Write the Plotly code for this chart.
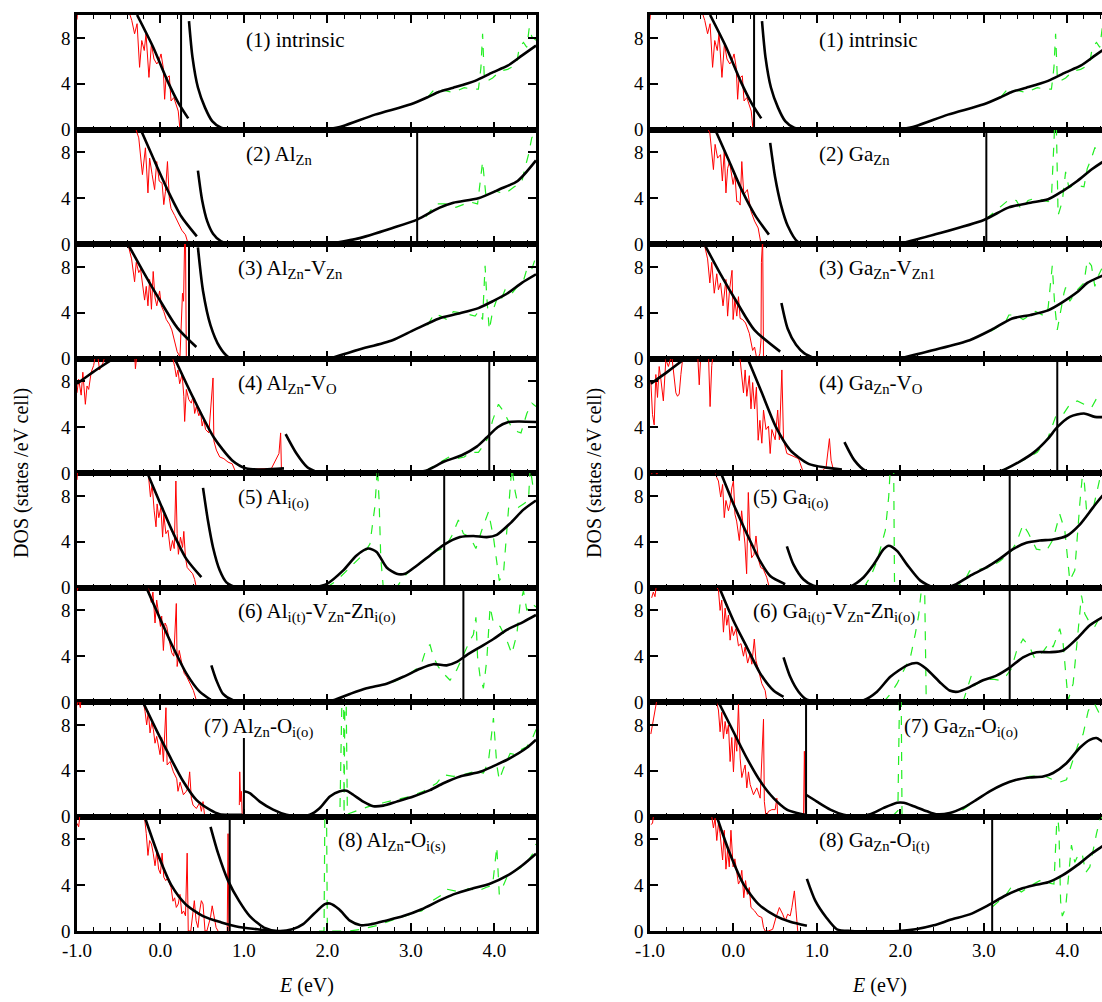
import plotly.graph_objects as go

# ---------------- data (E in eV, DOS in states/eV cell) ----------------
X_TICKS = [-1, 0, 1, 2, 3, 4]
X_TICK_LABELS = ["-1.0", "0.0", "1.0", "2.0", "3.0", "4.0"]
Y_TICKS = [0, 4, 8]
Y_TICK_LABELS = ["0", "4", "8"]

AL_LABELS = ["(1) intrinsic", "(2) Al<sub>Zn</sub>", "(3) Al<sub>Zn</sub>-V<sub>Zn</sub>",
             "(4) Al<sub>Zn</sub>-V<sub>O</sub>", "(5) Al<sub>i(o)</sub>",
             "(6) Al<sub>i(t)</sub>-V<sub>Zn</sub>-Zn<sub>i(o)</sub>",
             "(7) Al<sub>Zn</sub>-O<sub>i(o)</sub>", "(8) Al<sub>Zn</sub>-O<sub>i(s)</sub>"]
AL_LABEL_X = [1.0, 1.0, 0.9, 0.9, 0.9, 0.9, 0.5, 2.1]
GA_LABELS = ["(1) intrinsic", "(2) Ga<sub>Zn</sub>", "(3) Ga<sub>Zn</sub>-V<sub>Zn1</sub>",
             "(4) Ga<sub>Zn</sub>-V<sub>O</sub>", "(5) Ga<sub>i(o)</sub>",
             "(6) Ga<sub>i(t)</sub>-V<sub>Zn</sub>-Zn<sub>i(o)</sub>",
             "(7) Ga<sub>Zn</sub>-O<sub>i(o)</sub>", "(8) Ga<sub>Zn</sub>-O<sub>i(t)</sub>"]
GA_LABEL_X = [1.0, 1.0, 1.0, 1.0, 0.21, 0.21, 2.02, 1.0]

AL_FERMI = [0.247, 3.076, 0.342, 3.94, 3.40, 3.63, 1.0, 0.83]
AL_FERMI_TOP = [10, 10, 10, 10, 10, 10, 6.85, 10]
GA_FERMI = [0.247, 3.03, None, 3.88, 3.31, 3.31, 0.87, 3.10]
GA_FERMI_TOP = [10, 10, 10, 10, 10, 10, 10, 10]

# (1) intrinsic (same in both columns)
INTR_RED = [(-1.0, 9.6), (-0.99, 10.6), None, (-0.40, 10.8), (-0.344, 9.53), (-0.31, 8.36), (-0.28, 9.24),
            (-0.25, 5.43), (-0.224, 7.77), (-0.194, 6.9), (-0.173, 8.36), (-0.138, 4.55), (-0.108, 7.48),
            (-0.078, 6.16), (-0.044, 5.72), (-0.018, 6.01), (0.007, 6.6), (0.033, 5.43), (0.05, 2.64),
            (0.067, 4.55), (0.084, 4.55), (0.106, 4.69), (0.127, 2.49), (0.16, 2.79), (0.19, 2.2),
            (0.213, 1.61), (0.234, 0)]
INTR_VBFIT = [(-0.28, 10), (-0.087, 7.18), (0.084, 4.25), (0.213, 2.35), (0.333, 0.97)]
INTR_GAPFIT = [(0.342, 9.47), (0.384, 6.3), (0.449, 3.67), (0.534, 1.91), (0.62, 0.73), (0.727, 0.15), (0.856, 0)]
INTR_CBFIT = [(1.99, 0), (2.18, 0.29), (2.57, 1.3), (3.0, 2.2), (3.21, 2.85), (3.34, 3.3), (3.51, 3.65),
              (3.77, 4.25), (3.98, 4.99), (4.16, 5.57), (4.33, 6.45), (4.5, 7.33)]
INTR_GREEN = [(3.2, 2.8), (3.28, 3.5), (3.34, 3.5), (3.43, 3.37), (3.51, 3.23), (3.64, 3.66), (3.73, 3.52),
              (3.81, 3.52), (3.84, 5.4), (3.86, 8.36), (3.88, 4.6), (3.91, 4.22), (3.98, 4.5), (4.07, 5.1),
              (4.16, 5.25), (4.24, 5.57), (4.27, 5.87), (4.3, 7.18), (4.35, 7.6), (4.39, 7.18), (4.42, 8.94),
              (4.45, 8.1), (4.5, 7.8)]

# Al column
AL2_RED = [(-0.33, 10.8), (-0.28, 9.56), (-0.26, 9.27), (-0.216, 6.06), (-0.18, 8.4), (-0.15, 4.46), (-0.13, 7.5),
           (-0.1, 6.06), (-0.07, 4.75), (-0.045, 7.2), (-0.015, 5.5), (0.02, 5.3), (0.04, 3.44), (0.06, 4.6),
           (0.084, 7.2), (0.106, 4.0), (0.127, 3.1), (0.17, 2.5), (0.213, 1.9), (0.256, 1.2), (0.3, 0.8), (0.333, 0)]
AL2_VBFIT = [(-0.237, 10), (-0.05, 6.9), (0.1, 4.5), (0.25, 2.4), (0.436, 0.67)]
AL2_GAPFIT = [(0.449, 6.41), (0.5, 3.8), (0.56, 2.0), (0.63, 0.9), (0.727, 0.23), (0.9, 0)]
AL2_CBFIT = [(2.01, 0), (2.36, 0.47), (2.78, 1.4), (3.076, 2.13), (3.34, 3.15), (3.51, 3.6), (3.81, 4.0),
             (4.07, 4.8), (4.28, 5.5), (4.5, 7.3)]
AL2_GREEN = [(3.18, 2.4), (3.3, 3.5), (3.41, 3.5), (3.54, 3.2), (3.71, 3.67), (3.8, 3.5), (3.86, 7.2), (3.9, 4.2),
             (3.97, 4.4), (4.01, 4.66), (4.07, 4.5), (4.13, 4.4), (4.24, 5.0), (4.33, 5.4), (4.36, 6.4),
             (4.41, 7.8), (4.45, 9.3), (4.5, 9.6)]

AL3_RED = [(-0.41, 10.8), (-0.39, 10), (-0.346, 8.7), (-0.31, 6.7), (-0.29, 8.4), (-0.26, 7.5), (-0.238, 7.8),
           (-0.216, 6.6), (-0.19, 5.1), (-0.17, 6.3), (-0.15, 4.6), (-0.13, 6.9), (-0.108, 4.3), (-0.087, 7.6),
           (-0.065, 5.3), (-0.044, 4.6), (-0.01, 5.9), (0.01, 4.6), (0.04, 4.1), (0.07, 3.4), (0.106, 3.0),
           (0.136, 2.5), (0.17, 1.6), (0.2, 0.6), (0.234, 0.15), (0.247, 3.4), (0.264, 5.7), (0.277, 5.0),
           (0.29, 10.5), (0.30, 10.5), (0.31, 0), (0.33, 0)]
AL3_VBFIT = [(-0.39, 10), (-0.2, 7.5), (0.0, 5.0), (0.2, 2.7), (0.43, 1.0)]
AL3_GAPFIT = [(0.449, 9.7), (0.51, 5.9), (0.6, 2.9), (0.71, 1.0), (0.81, 0.15), (0.94, 0)]
AL3_CBFIT = [(2.03, 0), (2.36, 0.74), (2.78, 1.6), (3.04, 2.5), (3.34, 3.5), (3.56, 3.9), (3.81, 4.4),
             (3.98, 5.0), (4.16, 5.7), (4.33, 6.6), (4.5, 7.35)]
AL3_GREEN = [(3.2, 2.9), (3.28, 3.9), (3.36, 3.7), (3.43, 3.4), (3.51, 4.1), (3.64, 3.95), (3.77, 3.7),
             (3.81, 4.1), (3.86, 3.4), (3.89, 8.1), (3.91, 5.4), (3.94, 2.5), (3.98, 4.1), (4.05, 5.6),
             (4.09, 5.3), (4.13, 6.0), (4.2, 5.6), (4.28, 6.3), (4.35, 6.8), (4.39, 7.8), (4.44, 7.6), (4.5, 8.9)]

AL4_RED = [(-1.0, 7.0), (-0.98, 8.2), (-0.95, 6.8), (-0.93, 8.8), (-0.9, 6.0), (-0.88, 7.6), (-0.86, 7.3),
           (-0.83, 8.8), (-0.8, 9.4), (-0.78, 10.3), (-0.75, 10.2), (-0.73, 9.0), (-0.69, 9.6), (-0.66, 10.3),
           (-0.6, 10.5), None, (-0.31, 10.5), (-0.3, 9.1), (-0.28, 10.5), None,
           (0.13, 10.6), (0.15, 10), (0.17, 9.3), (0.19, 8.4), (0.21, 9.0), (0.23, 7.8), (0.26, 8.6), (0.28, 6.7),
           (0.29, 4.5), (0.31, 7.3), (0.34, 6.4), (0.37, 6.1), (0.39, 6.7), (0.41, 5.2), (0.43, 5.8), (0.46, 5.0),
           (0.48, 5.4), (0.5, 4.1), (0.52, 4.7), (0.54, 3.8), (0.58, 3.5), (0.63, 8.3), (0.64, 2.8), (0.67, 2.0),
           (0.71, 1.4), (0.76, 1.25), (0.81, 0.95), (0.86, 0.8), (0.9, 0.1), (0.92, 0), None,
           (1.04, 0.2), (1.16, 0.35), (1.33, 0.4), (1.42, 1.7), (1.44, 3.5), (1.45, 0.2), (1.48, 0.2)]
AL4_LEFTFIT = [(-1.0, 7.8), (-0.78, 8.95), (-0.56, 10)]
AL4_VBFIT = [(0.17, 10), (0.39, 6.6), (0.64, 3.1), (0.86, 1.1), (1.03, 0.4), (1.24, 0.3), (1.48, 0.4)]
AL4_GAPFIT = [(1.5, 3.4), (1.63, 1.7), (1.76, 0.5), (1.9, 0)]
AL4_CBFIT = [(2.97, 0), (3.18, 0.2), (3.4, 1.0), (3.61, 1.55), (3.79, 2.3), (3.91, 3.1), (4.04, 4.0),
             (4.17, 4.45), (4.3, 4.5), (4.5, 4.45)]
AL4_GREEN = [(3.18, 0.2), (3.36, 1.0), (3.46, 1.4), (3.55, 1.25), (3.64, 1.4), (3.72, 1.8), (3.81, 1.8),
             (3.9, 2.7), (3.94, 3.4), (3.98, 4.6), (4.05, 6.0), (4.11, 5.4), (4.2, 4.1), (4.28, 3.6),
             (4.32, 3.5), (4.39, 5.2), (4.45, 6.1), (4.5, 5.8)]

AL5_RED = [(-1.0, 9.4), (-0.99, 10.5), None, (-0.17, 10.5), (-0.145, 9.9), (-0.12, 7.9), (-0.1, 9.0),
           (-0.075, 6.7), (-0.053, 5.3), (-0.04, 7.3), (-0.02, 6.1), (0.005, 7.0), (0.026, 4.4), (0.04, 6.4),
           (0.065, 4.7), (0.09, 5.0), (0.12, 3.2), (0.145, 4.1), (0.165, 3.4), (0.185, 9.3), (0.2, 4.7),
           (0.215, 2.9), (0.24, 4.4), (0.265, 3.5), (0.28, 4.9), (0.3, 2.6), (0.32, 1.75), (0.355, 1.45),
           (0.386, 1.2), (0.41, 0.7), (0.43, 0)]
AL5_VBFIT = [(-0.157, 10), (0.0, 7.3), (0.15, 4.8), (0.31, 2.5), (0.49, 0.9)]
AL5_GAPFIT = [(0.51, 8.7), (0.57, 5.8), (0.63, 3.5), (0.71, 1.5), (0.79, 0.45), (0.91, 0), (1.03, 0)]
AL5_CBFIT = [(1.83, 0), (1.99, 0.3), (2.19, 1.5), (2.35, 2.8), (2.49, 3.4), (2.59, 3.1), (2.71, 1.75),
             (2.83, 1.2), (2.93, 1.2), (3.07, 1.9), (3.23, 2.8), (3.39, 3.7), (3.59, 4.4), (3.75, 4.5),
             (3.91, 4.4), (4.03, 4.6), (4.19, 5.6), (4.35, 6.8), (4.5, 7.6)]
AL5_GREEN = [(1.99, 0), (2.11, 0.6), (2.23, 1.45), (2.35, 2.3), (2.43, 2.9), (2.51, 3.8), (2.57, 7.1),
             (2.6, 10.5), (2.62, 7.6), (2.64, 2.6), (2.67, 0), (2.83, 0), (2.91, 0.9), (2.99, 1.45), (3.09, 2.0),
             (3.19, 2.6), (3.31, 3.2), (3.41, 3.5), (3.49, 4.5), (3.57, 5.9), (3.63, 4.7), (3.71, 4.4),
             (3.78, 3.4), (3.85, 5.0), (3.93, 6.6), (3.99, 4.4), (4.06, 0.6), (4.11, 1.2), (4.17, 6.8),
             (4.21, 10.5), (4.25, 8.4), (4.29, 7.0), (4.35, 7.3), (4.41, 7.6), (4.43, 10.5), (4.47, 8.5), (4.5, 8.5)]

AL6_RED = [(-1.0, 9.7), (-0.98, 10.2), None, (-0.19, 10.5), (-0.165, 10), (-0.14, 9.85), (-0.11, 8.7),
           (-0.09, 9.6), (-0.065, 6.9), (-0.045, 8.9), (-0.025, 7.7), (0.0, 6.6), (0.015, 7.5), (0.035, 4.5),
           (0.055, 6.9), (0.075, 6.6), (0.105, 5.4), (0.135, 4.3), (0.16, 4.0), (0.19, 8.6), (0.2, 3.1),
           (0.225, 4.5), (0.255, 3.4), (0.285, 2.5), (0.315, 2.2), (0.355, 1.6), (0.395, 1.0), (0.43, 0.15), (0.44, 0)]
AL6_VBFIT = [(-0.17, 10), (0.0, 7.2), (0.15, 4.8), (0.31, 2.5), (0.47, 0.9), (0.61, 0.15)]
AL6_GAPFIT = [(0.61, 3.2), (0.67, 1.9), (0.75, 0.7), (0.87, 0.15), (1.03, 0)]
AL6_CBFIT = [(1.83, 0), (2.07, 0.15), (2.27, 0.7), (2.47, 1.2), (2.71, 1.6), (2.91, 2.2), (3.11, 2.9),
             (3.27, 3.3), (3.43, 3.2), (3.55, 3.5), (3.67, 4.1), (3.83, 4.8), (3.99, 5.5), (4.15, 6.3),
             (4.35, 7.0), (4.5, 7.6)]
AL6_GREEN = [(2.79, 1.75), (2.95, 2.3), (3.07, 2.9), (3.13, 3.4), (3.19, 4.8), (3.23, 5.0), (3.27, 3.95),
             (3.33, 3.06), (3.39, 2.5), (3.47, 1.9), (3.55, 2.8), (3.65, 4.5), (3.71, 5.4), (3.75, 5.9),
             (3.78, 7.4), (3.8, 3.9), (3.83, 2.2), (3.87, 1.2), (3.91, 3.65), (3.95, 8.3), (3.99, 6.9),
             (4.07, 6.6), (4.15, 5.4), (4.21, 4.2), (4.27, 5.9), (4.31, 8.6), (4.35, 9.7), (4.39, 8.0),
             (4.45, 8.6), (4.5, 8.3)]

AL7_RED = [(-1.0, 9.7), (-0.98, 10.2), (-0.96, 9.5), (-0.95, 10.5), None, (-0.22, 10.5), (-0.2, 9.8),
           (-0.185, 9.2), (-0.165, 8.0), (-0.145, 9.2), (-0.125, 7.3), (-0.105, 8.2), (-0.085, 7.6),
           (-0.065, 6.4), (-0.045, 7.0), (-0.02, 6.0), (-0.005, 5.4), (0.015, 6.9), (0.035, 4.8), (0.066, 9.5),
           (0.08, 4.5), (0.115, 4.8), (0.155, 3.9), (0.195, 3.3), (0.21, 2.2), (0.235, 3.0), (0.275, 1.9),
           (0.31, 2.2), (0.33, 2.5), (0.35, 3.9), (0.37, 1.6), (0.39, 1.0), (0.43, 0.7), (0.47, 1.2),
           (0.49, 0.45), (0.51, 1.3), (0.53, 0), None, (0.945, 1.0), (0.95, 3.9), (0.96, 1.3), (0.97, 2.2), (0.98, 0)]
AL7_VBFIT = [(-0.21, 10), (-0.045, 7.5), (0.115, 5.2), (0.27, 3.1), (0.43, 1.45), (0.59, 0.6), (0.71, 0.2),
             (0.83, 0.15), (0.98, 0.15)]
AL7_CBFIT = [(1.0, 2.2), (1.07, 2.05), (1.19, 1.3), (1.35, 0.6), (1.51, 0.15), (1.67, 0), (1.79, 0.15),
             (1.91, 0.75), (2.03, 1.75), (2.15, 2.2), (2.23, 2.25), (2.31, 1.9), (2.43, 1.3), (2.55, 0.9),
             (2.67, 0.95), (2.83, 1.3), (3.03, 1.75), (3.23, 2.3), (3.39, 2.9), (3.59, 3.5), (3.83, 3.9),
             (3.99, 4.4), (4.19, 5.1), (4.39, 6.0), (4.5, 6.7)]
AL7_GREEN = [(2.03, 0), (2.15, 0.15), (2.175, 10.5), (2.195, 10.5), (2.2, 0.2), (2.21, 10.5), (2.225, 10.5),
             (2.24, 0.2), (2.35, 0.5), (2.51, 0.9), (2.67, 1.2), (2.83, 1.45), (2.99, 1.75), (3.15, 2.2),
             (3.31, 2.9), (3.39, 3.65), (3.51, 3.5), (3.63, 3.65), (3.75, 3.9), (3.87, 3.8), (3.93, 4.8),
             (3.99, 8.6), (4.03, 4.5), (4.06, 3.2), (4.11, 4.2), (4.19, 5.5), (4.25, 5.4), (4.31, 5.8),
             (4.39, 6.1), (4.45, 6.7), (4.5, 7.6)]

AL8_RED = [(-1.0, 9.4), (-0.98, 9.1), (-0.96, 10.5), None, (-0.21, 10.5), (-0.19, 9.85), (-0.17, 8.5),
           (-0.15, 6.6), (-0.13, 7.9), (-0.108, 7.6), (-0.087, 6.8), (-0.065, 5.7), (-0.044, 6.9), (-0.022, 5.4),
           (0.0, 5.0), (0.02, 6.8), (0.04, 4.7), (0.063, 4.4), (0.084, 4.6), (0.127, 3.8), (0.15, 2.6),
           (0.17, 2.9), (0.19, 2.06), (0.213, 2.35), (0.234, 3.2), (0.256, 1.5), (0.277, 1.75), (0.3, 1.32),
           (0.32, 6.8), (0.333, 0), (0.363, 0), (0.384, 1.32), (0.406, 2.65), (0.427, 0.9), (0.449, 0.3),
           (0.47, 1.75), (0.49, 2.65), (0.51, 2.35), (0.534, 0), (0.556, 0), (0.6, 1.2), (0.62, 2.2),
           (0.64, 1.2), (0.667, 0.3), (0.69, 0), None, (0.8, 0), (0.81, 8.5), (0.82, 0)]
AL8_VBFIT = [(-0.19, 10), (-0.02, 6.5), (0.13, 4.0), (0.3, 2.35), (0.51, 1.3), (0.73, 0.75), (0.94, 0.35),
             (1.16, 0.15), (1.33, 0)]
AL8_CBFIT = [(0.6, 9.1), (0.69, 6.8), (0.81, 4.4), (0.94, 2.65), (1.07, 1.3), (1.24, 0.3), (1.41, 0),
             (1.58, 0.15), (1.71, 0.6), (1.84, 1.5), (1.97, 2.35), (2.03, 2.4), (2.14, 1.9), (2.27, 0.9),
             (2.4, 0.5), (2.53, 0.6), (2.7, 0.9), (2.91, 1.3), (3.13, 1.9), (3.34, 2.65), (3.51, 3.2),
             (3.73, 3.7), (3.94, 4.1), (4.16, 4.85), (4.33, 5.7), (4.5, 6.75)]
AL8_GREEN = [(1.9, 0), (1.96, 0), (1.97, 10.5), (1.99, 10.5), (2.0, 0), (2.27, 0), (2.4, 0.15), (2.61, 0.5),
             (2.87, 1.18), (3.13, 1.76), (3.26, 2.65), (3.36, 3.1), (3.43, 3.65), (3.51, 3.5), (3.6, 3.4),
             (3.69, 3.7), (3.81, 3.5), (3.9, 3.8), (3.98, 4.0), (4.03, 7.35), (4.06, 3.2), (4.11, 4.0),
             (4.16, 4.85), (4.22, 5.15), (4.29, 5.45), (4.37, 5.75), (4.46, 6.75), (4.5, 7.6)]

# Ga column
GA2_RED = [(-0.33, 10.8), (-0.305, 10), (-0.283, 9.7), (-0.24, 6.5), (-0.22, 8.7), (-0.19, 7.5), (-0.155, 7.8),
           (-0.133, 5.5), (-0.11, 8.1), (-0.09, 4.46), (-0.07, 6.6), (-0.047, 7.2), (-0.004, 5.2), (0.017, 6.1),
           (0.04, 3.7), (0.06, 3.7), (0.08, 3.4), (0.1, 7.2), (0.124, 4.3), (0.167, 4.75), (0.21, 2.85),
           (0.253, 2.0), (0.296, 1.4), (0.33, 0)]
GA2_VBFIT = [(-0.22, 10), (-0.05, 7.2), (0.1, 4.7), (0.26, 2.5), (0.425, 0.82)]
GA2_GAPFIT = [(0.44, 8.83), (0.5, 5.8), (0.57, 3.4), (0.65, 1.6), (0.77, 0.2), (0.94, 0)]
GA2_CBFIT = [(1.99, 0), (2.4, 0.8), (3.0, 2.1), (3.3, 3.2), (3.56, 3.6), (3.77, 3.9), (3.94, 4.6),
             (4.12, 5.5), (4.29, 6.5), (4.41, 7.1), (4.5, 7.5)]
GA2_GREEN = [(3.03, 2.2), (3.3, 3.87), (3.39, 3.8), (3.45, 3.0), (3.53, 3.8), (3.62, 4.0), (3.77, 3.7),
             (3.81, 4.0), (3.85, 10.5), (3.87, 10.0), (3.89, 2.5), (3.94, 3.7), (3.98, 6.3), (4.02, 4.9),
             (4.07, 5.1), (4.13, 5.1), (4.2, 5.0), (4.24, 6.6), (4.29, 7.5), (4.33, 8.4), (4.41, 8.1), (4.5, 7.8)]

GA3_RED = [(-0.37, 10.5), (-0.35, 10), (-0.31, 8.7), (-0.283, 6.6), (-0.26, 8.4), (-0.23, 5.7), (-0.2, 7.4),
           (-0.18, 6.0), (-0.155, 6.6), (-0.125, 4.6), (-0.09, 6.9), (-0.07, 3.7), (-0.047, 6.0), (-0.017, 7.7),
           (-0.004, 3.4), (0.017, 5.1), (0.04, 3.7), (0.06, 5.4), (0.08, 3.5), (0.11, 3.4), (0.145, 3.1),
           (0.19, 2.2), (0.23, 0.7), (0.253, 1.0), (0.275, 0.15), (0.296, 0), (0.317, 0.44), (0.33, 1.6),
           (0.335, 8.4), (0.345, 10.5), (0.35, 10.5), (0.36, 0)]
GA3_VBFIT = [(-0.35, 10), (-0.15, 7.3), (0.05, 4.8), (0.25, 2.5), (0.56, 0.6)]
GA3_GAPFIT = [(0.575, 4.85), (0.65, 2.6), (0.75, 1.2), (0.85, 0.45), (0.98, 0)]
GA3_CBFIT = [(1.99, 0), (2.4, 0.74), (2.83, 1.6), (3.09, 2.5), (3.34, 3.5), (3.56, 3.8), (3.77, 4.2),
             (3.94, 4.9), (4.12, 5.8), (4.24, 6.6), (4.41, 7.2), (4.5, 7.5)]
GA3_GREEN = [(3.09, 2.4), (3.26, 3.2), (3.3, 3.8), (3.39, 3.8), (3.47, 3.4), (3.54, 3.7), (3.62, 4.1),
             (3.73, 3.7), (3.77, 4.4), (3.82, 8.1), (3.85, 4.6), (3.88, 2.5), (3.92, 4.3), (3.96, 5.7),
             (3.98, 6.2), (4.03, 5.0), (4.12, 6.0), (4.2, 6.6), (4.24, 8.6), (4.29, 8.1), (4.33, 6.3),
             (4.37, 7.2), (4.41, 7.8), (4.5, 7.6)]

GA4_RED = [(-0.99, 8.0), (-0.97, 5.1), (-0.95, 4.2), (-0.93, 8.6), (-0.91, 6.6), (-0.89, 9.3), (-0.87, 8.2),
           (-0.84, 6.3), (-0.81, 9.9), (-0.78, 9.3), (-0.74, 10.3), (-0.69, 7.0), (-0.67, 6.7), (-0.65, 6.9),
           (-0.63, 8.6), (-0.61, 9.9), (-0.57, 10.5), None, (-0.43, 10.5), (-0.41, 7.7), (-0.39, 10.5), None,
           (-0.3, 10.5), (-0.28, 5.8), (-0.26, 9.4), (-0.24, 10.5), None,
           (0.04, 10.5), (0.08, 9.9), (0.12, 7.0), (0.14, 9.0), (0.16, 6.7), (0.19, 8.5), (0.21, 5.6), (0.23, 7.9),
           (0.253, 5.6), (0.275, 7.5), (0.296, 2.86), (0.317, 4.6), (0.34, 2.6), (0.36, 5.5), (0.39, 3.8),
           (0.42, 4.1), (0.44, 1.7), (0.46, 3.8), (0.5, 2.9), (0.53, 5.5), (0.55, 2.9), (0.58, 9.0), (0.6, 2.9),
           (0.64, 1.7), (0.69, 1.55), (0.73, 1.4), (0.78, 1.25), (0.84, 0), (0.9, 0), (0.99, 0.23), (1.07, 0.23),
           (1.11, 0.5), (1.15, 3.0), (1.17, 1.1), (1.19, 0.5), (1.22, 0.23)]
GA4_LEFTFIT = [(-0.99, 7.8), (-0.78, 8.9), (-0.58, 10)]
GA4_VBFIT = [(0.17, 10), (0.34, 7.0), (0.51, 4.0), (0.68, 2.0), (0.9, 0.8), (1.11, 0.47), (1.3, 0.3)]
GA4_GAPFIT = [(1.33, 2.7), (1.45, 1.1), (1.58, 0.2), (1.71, 0)]
GA4_CBFIT = [(3.0, 0), (3.21, 0.2), (3.43, 1.0), (3.6, 1.8), (3.77, 3.0), (3.88, 4.0), (4.03, 4.9),
             (4.2, 5.2), (4.33, 4.9), (4.5, 4.9)]
GA4_GREEN = [(3.21, 0.2), (3.38, 0.8), (3.51, 1.25), (3.64, 1.8), (3.77, 3.1), (3.86, 4.9), (3.94, 5.0),
             (4.03, 6.0), (4.12, 6.3), (4.2, 6.0), (4.29, 5.7), (4.35, 6.5), (4.41, 6.2), (4.5, 6.4)]

GA5_RED = [(-0.98, 9.9), (-0.96, 10.5), (-0.92, 9.9), (-0.88, 10.2), (-0.84, 10.5), None, (-0.22, 10.5),
           (-0.2, 9.6), (-0.18, 9.3), (-0.153, 7.9), (-0.13, 9.0), (-0.11, 6.1), (-0.09, 7.6), (-0.06, 6.7),
           (-0.04, 7.3), (-0.02, 8.7), (0.0, 9.3), (0.018, 6.4), (0.038, 5.8), (0.07, 4.1), (0.098, 6.7),
           (0.118, 5.0), (0.138, 3.8), (0.158, 1.2), (0.178, 8.3), (0.198, 4.4), (0.218, 2.6), (0.246, 2.9),
           (0.27, 4.5), (0.298, 2.5), (0.326, 1.75), (0.358, 1.6), (0.398, 0.9), (0.43, 0)]
GA5_VBFIT = [(-0.15, 10), (0.0, 7.3), (0.16, 4.7), (0.32, 2.3), (0.44, 1.0), (0.62, 0.3)]
GA5_GAPFIT = [(0.64, 3.6), (0.72, 2.0), (0.84, 0.7), (0.96, 0.15), (1.16, 0)]
GA5_CBFIT = [(1.16, 0), (1.4, 0.1), (1.56, 0.9), (1.68, 2.0), (1.8, 3.35), (1.86, 3.65), (1.96, 3.2),
             (2.08, 2.0), (2.24, 0.6), (2.4, 0), (2.55, 0), (2.67, 0.3), (2.83, 1.0), (3.03, 1.75), (3.19, 2.5),
             (3.35, 3.35), (3.51, 3.9), (3.67, 4.1), (3.83, 4.2), (3.99, 4.5), (4.15, 5.5), (4.31, 7.0),
             (4.42, 8.0), (4.5, 8.5)]
GA5_GREEN = [(1.56, 0), (1.64, 0.9), (1.72, 2.3), (1.78, 3.8), (1.82, 5.0), (1.86, 7.9), (1.88, 10.5),
             (1.92, 10.5), (1.93, 0), (2.6, 0), (2.75, 0.3), (2.83, 1.45), (2.95, 1.6), (3.07, 1.75), (3.19, 2.3),
             (3.31, 3.0), (3.39, 3.9), (3.47, 5.5), (3.53, 4.8), (3.63, 3.35), (3.75, 3.2), (3.83, 4.2),
             (3.91, 6.4), (3.97, 5.0), (4.03, 0.6), (4.09, 1.5), (4.15, 7.3), (4.19, 10.5), (4.23, 6.8),
             (4.31, 6.9), (4.39, 9.5), (4.42, 9.9), (4.5, 9.0)]

GA6_RED = [(-0.98, 9.1), (-0.96, 9.6), (-0.94, 9.2), (-0.92, 10.5), None, (-0.22, 10.5), (-0.2, 10),
           (-0.18, 9.8), (-0.16, 8.0), (-0.14, 8.9), (-0.12, 6.1), (-0.1, 8.2), (-0.08, 6.7), (-0.06, 7.6),
           (-0.04, 5.4), (-0.02, 6.6), (0.0, 5.8), (0.03, 6.4), (0.06, 4.9), (0.09, 5.1), (0.12, 4.0),
           (0.14, 4.8), (0.17, 3.4), (0.2, 4.2), (0.22, 3.3), (0.25, 5.5), (0.27, 3.6), (0.3, 2.8), (0.34, 1.6),
           (0.38, 1.0), (0.4, 0)]
GA6_VBFIT = [(-0.17, 10), (0.0, 7.1), (0.16, 4.8), (0.32, 2.5), (0.48, 1.0), (0.6, 0.45)]
GA6_GAPFIT = [(0.6, 3.9), (0.68, 2.2), (0.78, 0.9), (0.88, 0.2), (1.04, 0)]
GA6_CBFIT = [(1.04, 0), (1.4, 0), (1.56, 0.15), (1.72, 0.9), (1.88, 2.2), (2.08, 3.2), (2.2, 3.4),
             (2.31, 2.9), (2.47, 1.75), (2.59, 1.0), (2.69, 0.9), (2.83, 1.3), (2.99, 1.9), (3.15, 2.3),
             (3.31, 3.0), (3.47, 3.9), (3.63, 4.35), (3.79, 4.35), (3.95, 4.5), (4.11, 5.5), (4.27, 6.7),
             (4.42, 7.4), (4.5, 7.7)]
GA6_GREEN = [(1.8, 0), (1.88, 0.7), (1.96, 1.6), (2.04, 2.8), (2.12, 3.9), (2.18, 6.0), (2.22, 7.6),
             (2.25, 9.7), (2.27, 10.5), (2.29, 10.5), (2.31, 0), (2.75, 0), (2.79, 1.0), (2.85, 2.3), (2.89, 1.45),
             (2.99, 1.9), (3.11, 2.0), (3.19, 1.9), (3.27, 2.3), (3.33, 2.9), (3.39, 4.4), (3.47, 5.5),
             (3.55, 4.8), (3.61, 3.8), (3.71, 4.4), (3.79, 5.2), (3.83, 4.8), (3.91, 6.4), (3.95, 5.1),
             (4.01, 0.15), (4.07, 1.6), (4.13, 6.0), (4.17, 9.3), (4.21, 7.7), (4.27, 6.9), (4.33, 6.6),
             (4.39, 7.4), (4.42, 7.6), (4.5, 8.0)]

GA7_RED = [(-0.99, 7.2), (-0.98, 7.6), (-0.95, 8.9), (-0.93, 9.8), (-0.91, 10.5), None, (-0.22, 10.5),
           (-0.2, 9.8), (-0.18, 9.3), (-0.16, 7.4), (-0.14, 9.1), (-0.12, 6.8), (-0.1, 8.3), (-0.08, 7.2),
           (-0.06, 8.0), (-0.04, 4.8), (-0.02, 6.9), (0.0, 3.9), (0.02, 7.1), (0.04, 5.7), (0.06, 9.8),
           (0.08, 5.1), (0.1, 3.4), (0.12, 4.0), (0.14, 4.5), (0.16, 2.5), (0.18, 3.9), (0.2, 2.8), (0.24, 1.9),
           (0.28, 2.5), (0.32, 1.6), (0.36, 8.5), (0.37, 1.3), (0.39, 0), (0.42, 0.45), (0.46, 0.6), (0.5, 0.6),
           (0.52, 1.6), (0.53, 0), None, (0.84, 0.15), (0.85, 5.7), (0.86, 0)]
GA7_VBFIT = [(-0.18, 10), (0.0, 7.4), (0.16, 5.1), (0.32, 3.1), (0.48, 1.6), (0.64, 0.6), (0.76, 0.3), (0.86, 0.15)]
GA7_CBFIT = [(0.87, 1.9), (1.0, 1.3), (1.16, 0.6), (1.32, 0.15), (1.48, 0), (1.64, 0.2), (1.8, 0.75),
             (1.96, 1.2), (2.04, 1.2), (2.16, 0.9), (2.32, 0.45), (2.43, 0.2), (2.59, 0.3), (2.75, 0.75),
             (2.91, 1.45), (3.07, 2.2), (3.23, 2.8), (3.39, 3.2), (3.55, 3.4), (3.71, 3.5), (3.83, 3.8),
             (3.99, 4.65), (4.15, 6.0), (4.27, 6.7), (4.35, 6.85), (4.42, 6.55), (4.5, 6.4)]
GA7_GREEN = [(1.9, 0), (1.97, 0.5), (1.99, 10.5), (2.01, 10.5), (2.02, 0), (2.5, 0), (2.59, 0.3), (2.75, 0.6),
             (2.91, 1.45), (3.07, 2.2), (3.23, 2.8), (3.39, 3.2), (3.55, 3.5), (3.71, 3.6), (3.83, 3.2),
             (3.91, 3.0), (3.99, 3.2), (4.05, 4.5), (4.13, 6.3), (4.19, 7.2), (4.25, 9.2), (4.29, 9.8),
             (4.33, 9.8), (4.39, 8.9), (4.42, 9.2), (4.5, 9.5)]

GA8_RED = [(-0.99, 9.3), (-0.97, 9.4), (-0.95, 10.5), None, (-0.28, 10.5), (-0.26, 10), (-0.24, 9.0),
           (-0.22, 9.85), (-0.2, 7.9), (-0.18, 9.4), (-0.16, 8.5), (-0.13, 6.2), (-0.11, 8.8), (-0.09, 5.4),
           (-0.07, 7.1), (-0.05, 5.6), (-0.03, 8.8), (-0.004, 5.6), (0.017, 6.3), (0.04, 4.9), (0.06, 4.1),
           (0.08, 4.4), (0.1, 5.3), (0.124, 2.9), (0.145, 4.4), (0.167, 3.2), (0.19, 3.8), (0.21, 2.06),
           (0.253, 1.76), (0.296, 1.32), (0.34, 1.18), (0.36, 0.3), (0.38, 0), (0.42, 0), (0.47, 0.15),
           (0.51, 1.2), (0.55, 2.05), (0.59, 1.47), (0.62, 0.88), (0.65, 1.47), (0.68, 1.32), (0.7, 2.06),
           (0.73, 3.5), (0.75, 1.76), (0.77, 0)]
GA8_VBFIT = [(-0.2, 10), (-0.05, 6.9), (0.12, 4.1), (0.3, 2.35), (0.51, 1.3), (0.68, 0.8), (0.88, 0.45)]
GA8_CBFIT = [(0.88, 4.55), (0.98, 2.65), (1.11, 1.2), (1.24, 0.15), (1.41, 0), (1.97, 0), (2.18, 0.15),
             (2.4, 0.5), (2.61, 1.0), (2.83, 1.45), (3.04, 2.2), (3.26, 3.1), (3.43, 3.65), (3.6, 4.0),
             (3.77, 4.25), (3.94, 4.85), (4.12, 5.75), (4.29, 6.75), (4.41, 7.35), (4.5, 7.8)]
GA8_GREEN = [(3.1, 2.1), (3.26, 3.1), (3.34, 3.95), (3.45, 3.4), (3.56, 3.95), (3.67, 4.4), (3.77, 4.2),
             (3.84, 4.1), (3.88, 10.5), (3.9, 8.8), (3.92, 2.6), (3.94, 1.3), (3.98, 2.0), (4.03, 6.3),
             (4.05, 7.5), (4.09, 6.0), (4.14, 6.8), (4.18, 6.7), (4.22, 5.1), (4.27, 5.6), (4.31, 7.2),
             (4.35, 8.5), (4.39, 9.7), (4.41, 9.9), (4.5, 10.5)]

# ---------------- assembly ----------------
AL_PANELS = [
    (INTR_RED, [INTR_VBFIT, INTR_GAPFIT, INTR_CBFIT], INTR_GREEN),
    (AL2_RED, [AL2_VBFIT, AL2_GAPFIT, AL2_CBFIT], AL2_GREEN),
    (AL3_RED, [AL3_VBFIT, AL3_GAPFIT, AL3_CBFIT], AL3_GREEN),
    (AL4_RED, [AL4_LEFTFIT, AL4_VBFIT, AL4_GAPFIT, AL4_CBFIT], AL4_GREEN),
    (AL5_RED, [AL5_VBFIT, AL5_GAPFIT, AL5_CBFIT], AL5_GREEN),
    (AL6_RED, [AL6_VBFIT, AL6_GAPFIT, AL6_CBFIT], AL6_GREEN),
    (AL7_RED, [AL7_VBFIT, AL7_CBFIT], AL7_GREEN),
    (AL8_RED, [AL8_VBFIT, AL8_CBFIT], AL8_GREEN),
]
GA_PANELS = [
    (INTR_RED, [INTR_VBFIT, INTR_GAPFIT, INTR_CBFIT], INTR_GREEN),
    (GA2_RED, [GA2_VBFIT, GA2_GAPFIT, GA2_CBFIT], GA2_GREEN),
    (GA3_RED, [GA3_VBFIT, GA3_GAPFIT, GA3_CBFIT], GA3_GREEN),
    (GA4_RED, [GA4_LEFTFIT, GA4_VBFIT, GA4_GAPFIT, GA4_CBFIT], GA4_GREEN),
    (GA5_RED, [GA5_VBFIT, GA5_GAPFIT, GA5_CBFIT], GA5_GREEN),
    (GA6_RED, [GA6_VBFIT, GA6_GAPFIT, GA6_CBFIT], GA6_GREEN),
    (GA7_RED, [GA7_VBFIT, GA7_CBFIT], GA7_GREEN),
    (GA8_RED, [GA8_VBFIT, GA8_CBFIT], GA8_GREEN),
]

W, H = 1102, 1002
FONT = "Liberation Serif"
COLS = [
    dict(panels=AL_PANELS, labels=AL_LABELS, lx=AL_LABEL_X, fermi=AL_FERMI, ftop=AL_FERMI_TOP,
         left=77, right=536, xmax=4.5, mirror_y="ticks"),
    dict(panels=GA_PANELS, labels=GA_LABELS, lx=GA_LABEL_X, fermi=GA_FERMI, ftop=GA_FERMI_TOP,
         left=650, right=1102, xmax=4.416, mirror_y=False),
]
TOP, PH = 15, 114.5


def split(pts):
    xs, ys = [], []
    for p in pts:
        if p is None:
            xs.append(None); ys.append(None)
        else:
            xs.append(p[0]); ys.append(p[1])
    return xs, ys


fig = go.Figure()
layout = dict(template="none", width=W, height=H, margin=dict(l=0, r=0, t=0, b=0, autoexpand=False),
              paper_bgcolor="white", plot_bgcolor="white", showlegend=False,
              font=dict(family=FONT, size=19, color="black"))
annotations = []

for c, col in enumerate(COLS):
    for r in range(8):
        n = c * 8 + r + 1
        xa = "x" if n == 1 else f"x{n}"
        ya = "y" if n == 1 else f"y{n}"
        red, fits, green = col["panels"][r]
        rx, ry = split(red)
        fig.add_trace(go.Scatter(x=rx, y=ry, mode="lines", line=dict(color="#ff0000", width=1),
                                 xaxis=xa, yaxis=ya, hoverinfo="skip"))
        gx, gy = split(green)
        fig.add_trace(go.Scatter(x=gx, y=gy, mode="lines", line=dict(color="#22ee22", width=1.2, dash="dash"),
                                 xaxis=xa, yaxis=ya, hoverinfo="skip"))
        for f in fits:
            fx, fy = split(f)
            fig.add_trace(go.Scatter(x=fx, y=fy, mode="lines",
                                     line=dict(color="black", width=2.6, shape="spline", smoothing=0.7),
                                     xaxis=xa, yaxis=ya, hoverinfo="skip"))
        ef = col["fermi"][r]
        if ef is not None:
            fig.add_trace(go.Scatter(x=[ef, ef], y=[0, col["ftop"][r]], mode="lines",
                                     line=dict(color="black", width=2), xaxis=xa, yaxis=ya, hoverinfo="skip"))
        top = TOP + PH * r
        bot = top + PH
        xdom = [col["left"] / W, min(col["right"] / W, 1.0)]
        ydom = [1 - bot / H, 1 - top / H]
        bottom_row = (r == 7)
        layout["xaxis" if n == 1 else f"xaxis{n}"] = dict(
            domain=xdom, anchor=ya, range=[-1, col["xmax"]], showline=True, linecolor="black", linewidth=2.5,
            mirror="ticks", ticks="inside", ticklen=8, tickwidth=1.5, tickcolor="black", automargin=False,
            tickmode="array", tickvals=X_TICKS, ticktext=X_TICK_LABELS, showticklabels=bottom_row,
            tickfont=dict(family=FONT, size=19, color="black"), showgrid=False, zeroline=False, fixedrange=True,
            minor=dict(tickmode="linear", tick0=-1, dtick=0.2, ticks="inside", ticklen=4, tickwidth=1.3,
                       tickcolor="black", showgrid=False))
        layout["yaxis" if n == 1 else f"yaxis{n}"] = dict(
            domain=ydom, anchor=xa, range=[0, 10], showline=True, linecolor="black", linewidth=2.5,
            mirror=col["mirror_y"], ticks="inside", ticklen=8, tickwidth=1.5, tickcolor="black",
            automargin=False, tickmode="array", tickvals=Y_TICKS, ticktext=Y_TICK_LABELS,
            tickfont=dict(family=FONT, size=19, color="black"),
            showgrid=False, zeroline=False, fixedrange=True)
        annotations.append(dict(text=col["labels"][r], x=col["lx"][r], y=7.8, xref=xa, yref=ya,
                                xanchor="left", yanchor="middle", showarrow=False,
                                font=dict(family=FONT, size=21, color="black")))
    cx = (col["left"] + (col["left"] + 459)) / 2 / W
    annotations.append(dict(text="<i>E</i> (eV)", x=cx, y=1 - 985 / H, xref="paper", yref="paper",
                            xanchor="center", yanchor="middle", showarrow=False,
                            font=dict(family=FONT, size=20, color="black")))
    annotations.append(dict(text="DOS (states /eV cell)", x=(col["left"] - 55) / W, y=1 - 473 / H,
                            xref="paper", yref="paper", xanchor="center", yanchor="middle", textangle=-90,
                            showarrow=False, font=dict(family=FONT, size=20, color="black")))

layout["annotations"] = annotations
fig.update_layout(**layout)
fig.write_html("out.html")
